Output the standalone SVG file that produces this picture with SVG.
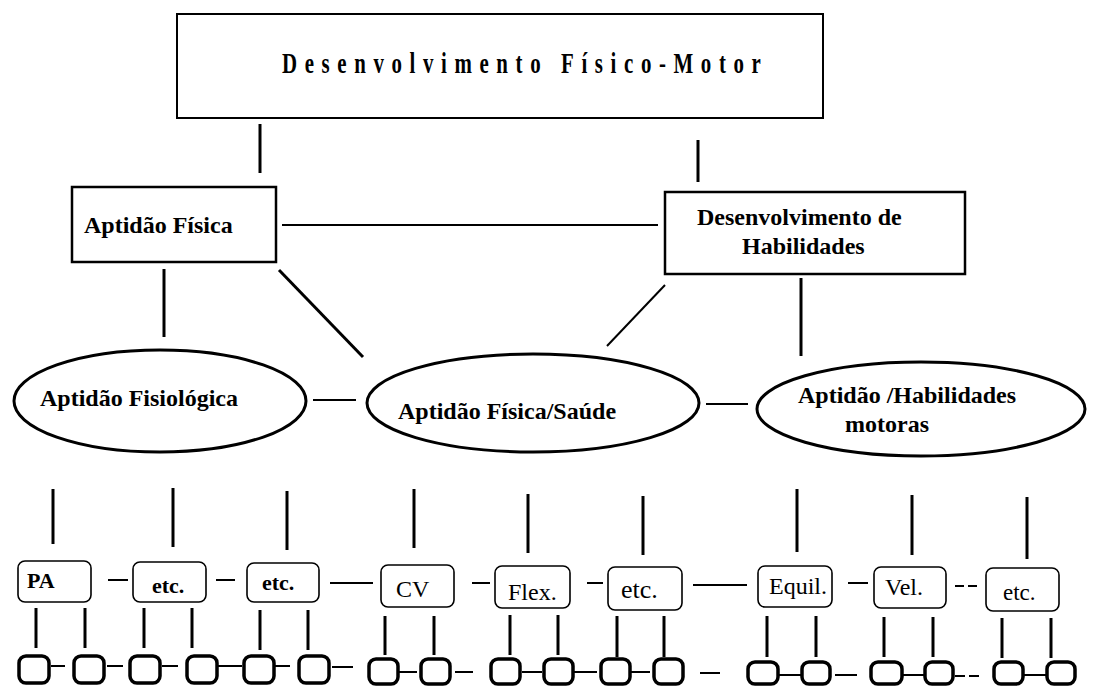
<svg xmlns="http://www.w3.org/2000/svg" width="1095" height="686" viewBox="0 0 1095 686">
  <style>
    .box { fill: #fff; stroke: #000; stroke-width: 2.5; }
    .oval { fill: #fff; stroke: #000; stroke-width: 3; }
    .item { fill: #fff; stroke: #000; stroke-width: 1.6; }
    .leaf { fill: #fff; stroke: #000; stroke-width: 3.5; }
    .ln { stroke: #000; stroke-width: 2; fill: none; }
    .lt { stroke: #000; stroke-width: 3; fill: none; }
    .bt { font-family: "Liberation Serif", "Times New Roman", serif; font-weight: bold; font-size: 24px; fill: #000; }
    .sb { font-family: "Liberation Serif", "Times New Roman", serif; font-weight: bold; font-size: 22px; fill: #000; }
    .sr { font-family: "Liberation Serif", "Times New Roman", serif; font-size: 24px; fill: #000; }
  </style>

  <!-- connectors -->
  <g id="connectors">
    <!-- top level -->
    <line class="lt" x1="260" y1="124" x2="260" y2="173"/>
    <line class="lt" x1="698" y1="140" x2="698" y2="182"/>
    <line class="ln" x1="282" y1="225" x2="658" y2="225"/>
    <line class="lt" x1="164" y1="269" x2="164" y2="337"/>
    <line class="lt" x1="279" y1="270" x2="363" y2="357"/>
    <line class="ln" x1="665" y1="285" x2="607" y2="346"/>
    <line class="lt" x1="801" y1="278" x2="801" y2="356"/>
    <line class="ln" x1="313" y1="400" x2="356" y2="400"/>
    <line class="ln" x1="706" y1="404" x2="748" y2="404"/>

    <!-- ovals to item row -->
    <line class="lt" x1="53" y1="489" x2="53" y2="544"/>
    <line class="lt" x1="173" y1="488" x2="173" y2="547"/>
    <line class="lt" x1="287" y1="491" x2="287" y2="550"/>
    <line class="lt" x1="414" y1="489" x2="414" y2="548"/>
    <line class="lt" x1="528" y1="494" x2="528" y2="553"/>
    <line class="lt" x1="643" y1="496" x2="643" y2="555"/>
    <line class="lt" x1="797" y1="489" x2="797" y2="552"/>
    <line class="lt" x1="912" y1="495" x2="912" y2="555"/>
    <line class="lt" x1="1027" y1="497" x2="1027" y2="559"/>

    <!-- links along item row -->
    <line class="ln" x1="108" y1="580" x2="128" y2="580"/>
    <line class="ln" x1="216" y1="580" x2="235" y2="580"/>
    <line class="ln" x1="330" y1="583" x2="373" y2="583"/>
    <line class="ln" x1="472" y1="583" x2="490" y2="583"/>
    <line class="ln" x1="587" y1="583" x2="603" y2="583"/>
    <line class="ln" x1="693" y1="585" x2="747" y2="585"/>
    <line class="ln" x1="848" y1="583" x2="868" y2="583"/>
    <line class="ln" x1="955" y1="586" x2="978" y2="586" stroke-dasharray="9 4"/>

    <!-- items to leaves -->
    <line class="lt" x1="36" y1="608" x2="36" y2="648"/>
    <line class="lt" x1="85" y1="608" x2="85" y2="648"/>
    <line class="lt" x1="144" y1="608" x2="144" y2="648"/>
    <line class="lt" x1="192" y1="608" x2="192" y2="648"/>
    <line class="lt" x1="260" y1="610" x2="260" y2="650"/>
    <line class="lt" x1="308" y1="610" x2="308" y2="650"/>
    <line class="lt" x1="385" y1="616" x2="385" y2="655"/>
    <line class="lt" x1="434" y1="616" x2="434" y2="655"/>
    <line class="lt" x1="510" y1="615" x2="510" y2="655"/>
    <line class="lt" x1="558" y1="615" x2="558" y2="655"/>
    <line class="lt" x1="617" y1="616" x2="617" y2="657"/>
    <line class="lt" x1="664" y1="616" x2="664" y2="657"/>
    <line class="lt" x1="767" y1="616" x2="767" y2="657"/>
    <line class="lt" x1="816" y1="616" x2="816" y2="657"/>
    <line class="lt" x1="884" y1="617" x2="884" y2="657"/>
    <line class="lt" x1="933" y1="617" x2="933" y2="657"/>
    <line class="lt" x1="1002" y1="618" x2="1002" y2="658"/>
    <line class="lt" x1="1051" y1="618" x2="1051" y2="658"/>

    <!-- links along leaf row -->
    <line class="ln" x1="51" y1="666" x2="65" y2="666"/>
    <line class="ln" x1="107" y1="666" x2="123" y2="666"/>
    <line class="ln" x1="162" y1="666" x2="178" y2="666"/>
    <line class="ln" x1="217" y1="666" x2="242" y2="666"/>
    <line class="ln" x1="275" y1="666" x2="290" y2="666"/>
    <line class="ln" x1="332" y1="667" x2="353" y2="667"/>
    <line class="ln" x1="399" y1="672" x2="417" y2="672"/>
    <line class="ln" x1="455" y1="672" x2="473" y2="672"/>
    <line class="ln" x1="522" y1="672" x2="542" y2="672"/>
    <line class="ln" x1="574" y1="672" x2="597" y2="672"/>
    <line class="ln" x1="631" y1="672" x2="650" y2="672"/>
    <line class="ln" x1="700" y1="673" x2="720" y2="673"/>
    <line class="ln" x1="779" y1="675" x2="802" y2="675"/>
    <line class="ln" x1="835" y1="675" x2="857" y2="675"/>
    <line class="ln" x1="903" y1="675" x2="924" y2="675"/>
    <line class="ln" x1="955" y1="676" x2="980" y2="676" stroke-dasharray="10 4"/>
    <line class="ln" x1="1024" y1="675" x2="1047" y2="675"/>
  </g>

  <!-- main node -->
  <g id="n-desenvolvimento-fisico-motor">
    <rect class="box" x="177" y="14" width="646" height="104" style="stroke-width:2"/>
    <text class="bt" transform="translate(282,73) scale(0.72,1)" style="font-size:29px" textLength="665" lengthAdjust="spacing">Desenvolvimento Físico-Motor</text>
  </g>

  <g id="n-aptidao-fisica">
    <rect class="box" x="72" y="187" width="204" height="75"/>
    <text class="bt" x="84" y="233">Aptidão Física</text>
  </g>

  <g id="n-desenvolvimento-habilidades">
    <rect class="box" x="665" y="192" width="300" height="82"/>
    <text class="bt" x="697" y="225">Desenvolvimento de</text>
    <text class="bt" x="742" y="254">Habilidades</text>
  </g>

  <g id="n-aptidao-fisiologica">
    <ellipse class="oval" cx="160" cy="401" rx="146" ry="51"/>
    <text class="bt" x="40" y="406">Aptidão Fisiológica</text>
  </g>

  <g id="n-aptidao-fisica-saude">
    <ellipse class="oval" cx="533" cy="403" rx="166" ry="49"/>
    <text class="bt" x="398" y="419">Aptidão Física/Saúde</text>
  </g>

  <g id="n-aptidao-habilidades-motoras">
    <ellipse class="oval" cx="921" cy="409" rx="164" ry="47"/>
    <text class="bt" x="798" y="403">Aptidão /Habilidades</text>
    <text class="bt" x="845" y="432">motoras</text>
  </g>

  <!-- item row -->
  <g id="n-pa">
    <rect class="item" x="18" y="561" width="73" height="41" rx="7"/>
    <text class="sb" x="27" y="588">PA</text>
  </g>
  <g id="n-etc-1">
    <rect class="item" x="133" y="562" width="73" height="40" rx="7"/>
    <text class="sb" x="152" y="593">etc.</text>
  </g>
  <g id="n-etc-2">
    <rect class="item" x="247" y="563" width="72" height="39" rx="7"/>
    <text class="sb" x="262" y="590">etc.</text>
  </g>
  <g id="n-cv">
    <rect class="item" x="381" y="565" width="73" height="42" rx="7"/>
    <text class="sr" x="396" y="597">CV</text>
  </g>
  <g id="n-flex">
    <rect class="item" x="495" y="566" width="75" height="42" rx="7"/>
    <text class="sr" x="508" y="600">Flex.</text>
  </g>
  <g id="n-etc-3">
    <rect class="item" x="608" y="567" width="74" height="43" rx="7"/>
    <text class="sr" x="621" y="598" style="font-size:26px">etc.</text>
  </g>
  <g id="n-equil">
    <rect class="item" x="758" y="566" width="74" height="41" rx="7"/>
    <text class="sr" x="769" y="594">Equil.</text>
  </g>
  <g id="n-vel">
    <rect class="item" x="874" y="567" width="72" height="41" rx="7"/>
    <text class="sr" x="885" y="595">Vel.</text>
  </g>
  <g id="n-etc-4">
    <rect class="item" x="986" y="568" width="73" height="43" rx="7"/>
    <text class="sr" x="1003" y="600" style="font-size:23px">etc.</text>
  </g>

  <!-- leaf row -->
  <g id="leaves">
    <rect class="leaf" x="19" y="656" width="30" height="27" rx="7"/>
    <rect class="leaf" x="74" y="656" width="30" height="27" rx="7"/>
    <rect class="leaf" x="130" y="656" width="30" height="27" rx="7"/>
    <rect class="leaf" x="187" y="656" width="30" height="27" rx="7"/>
    <rect class="leaf" x="244" y="656" width="30" height="27" rx="7"/>
    <rect class="leaf" x="299" y="656" width="30" height="27" rx="7"/>
    <rect class="leaf" x="369" y="659" width="29" height="25" rx="7"/>
    <rect class="leaf" x="421" y="659" width="29" height="25" rx="7"/>
    <rect class="leaf" x="491" y="659" width="29" height="25" rx="7"/>
    <rect class="leaf" x="544" y="659" width="29" height="25" rx="7"/>
    <rect class="leaf" x="601" y="659" width="29" height="25" rx="7"/>
    <rect class="leaf" x="654" y="659" width="29" height="25" rx="7"/>
    <rect class="leaf" x="748" y="662" width="30" height="22" rx="7"/>
    <rect class="leaf" x="802" y="662" width="28" height="22" rx="7"/>
    <rect class="leaf" x="871" y="662" width="31" height="22" rx="7"/>
    <rect class="leaf" x="925" y="662" width="28" height="22" rx="7"/>
    <rect class="leaf" x="994" y="662" width="29" height="22" rx="7"/>
    <rect class="leaf" x="1047" y="662" width="28" height="22" rx="7"/>
  </g>
</svg>
